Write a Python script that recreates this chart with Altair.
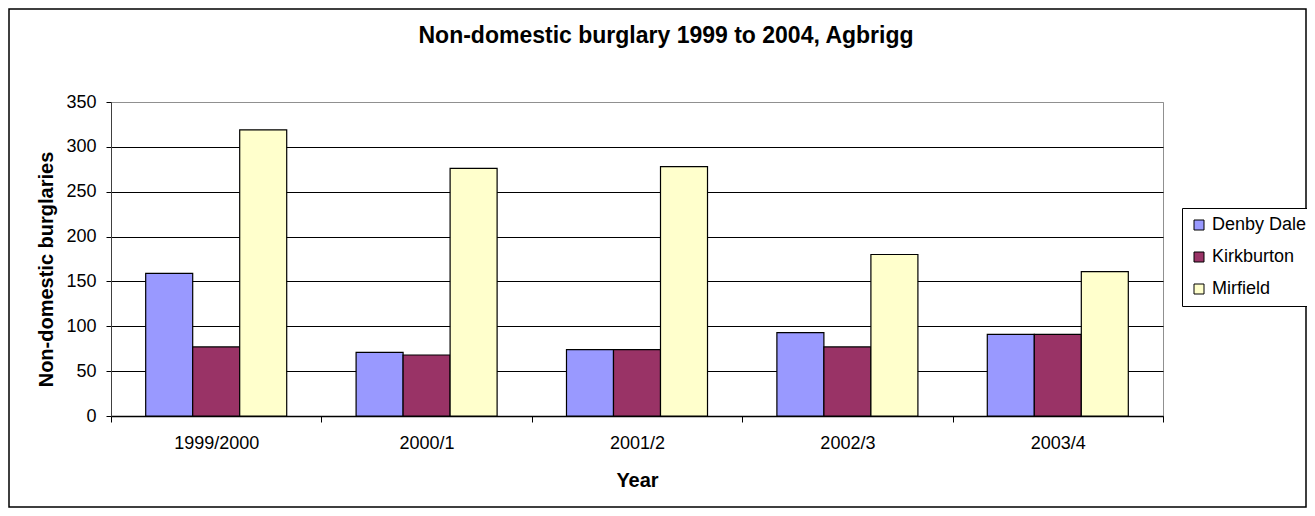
import altair as alt
import pandas as pd

years = ["1999/2000", "2000/1", "2001/2", "2002/3", "2003/4"]
areas = ["Denby Dale", "Kirkburton", "Mirfield"]
denby_dale = [159, 71, 74, 93, 91]
kirkburton = [77, 68, 74, 77, 91]
mirfield = [319, 276, 278, 180, 161]
colors = ["#9999FF", "#993366", "#FFFFCC"]
title_text = "Non-domestic burglary 1999 to 2004, Agbrigg"

rows = []
for area, vals in zip(areas, [denby_dale, kirkburton, mirfield]):
    for y, v in zip(years, vals):
        rows.append({"Year": y, "Area": area, "Value": v})
df = pd.DataFrame(rows)

W, H = 1052, 314
PL, PT, PR, PB = 103, 94, 144, 92
FONT = "Liberation Sans"

bars = alt.Chart(df).mark_bar(stroke="black", strokeWidth=1.2).encode(
    x=alt.X("Year:N", sort=years,
            scale=alt.Scale(paddingInner=0, paddingOuter=0),
            axis=alt.Axis(title="Year", labelAngle=0, tickBand="extent",
                          tickSize=6, labelPadding=12, domainColor="black",
                          domainWidth=1.5, tickColor="black",
                          titleY=64, titleBaseline="middle")),
    xOffset=alt.XOffset("Area:N", sort=areas,
                        scale=alt.Scale(paddingInner=0, paddingOuter=0.738)),
    y=alt.Y("Value:Q", scale=alt.Scale(domain=[0, 350]),
            axis=alt.Axis(title="Non-domestic burglaries",
                          values=[0, 50, 100, 150, 200, 250, 300, 350],
                          tickSize=5, labelPadding=10, grid=True,
                          gridColor={"condition": {"test": "datum.value >= 350", "value": "#909090"},
                                     "value": "black"},
                          domainColor="#404040", tickColor="black",
                          titleX=-65, titleY=167, titleBaseline="middle",
                          titleAngle=-90, titleAlign="center")),
    color=alt.Color("Area:N", sort=areas,
                    scale=alt.Scale(domain=areas, range=colors),
                    legend=alt.Legend(title=None, orient="none",
                                      legendX=1071, legendY=106,
                                      symbolType="square", symbolSize=100,
                                      symbolStrokeColor="black", symbolStrokeWidth=1,
                                      labelFontSize=18, labelFont=FONT,
                                      rowPadding=14, padding=8,
                                      strokeColor="black", fillColor="white",
                                      labelColor="black")),
)

border = alt.Chart(pd.DataFrame({"a": [0]})).mark_rect(
    fill=None, stroke="black", strokeWidth=1.5
).encode(
    x=alt.value(-PL + 1), x2=alt.value(W + PR - 1),
    y=alt.value(-PT + 1), y2=alt.value(H + PB - 1),
)

title = alt.Chart(pd.DataFrame({"t": [title_text]})).mark_text(
    font=FONT, fontSize=23, fontWeight="bold", color="black",
    align="center", baseline="middle"
).encode(text="t:N", x=alt.value(555), y=alt.value(-66))

chart = alt.layer(border, bars, title).properties(
    width=W, height=H,
    autosize=alt.AutoSizeParams(type="none"),
    padding={"left": PL, "top": PT, "right": PR, "bottom": PB},
    background="white",
).configure_view(stroke="#909090", strokeWidth=1).configure_axis(
    labelFont=FONT, labelFontSize=18, labelColor="black",
    titleFont=FONT, titleFontSize=20, titleFontWeight="bold", titleColor="black",
    gridWidth=1,
)

chart.save("out.html", embed_options={"renderer": "svg", "actions": False})
